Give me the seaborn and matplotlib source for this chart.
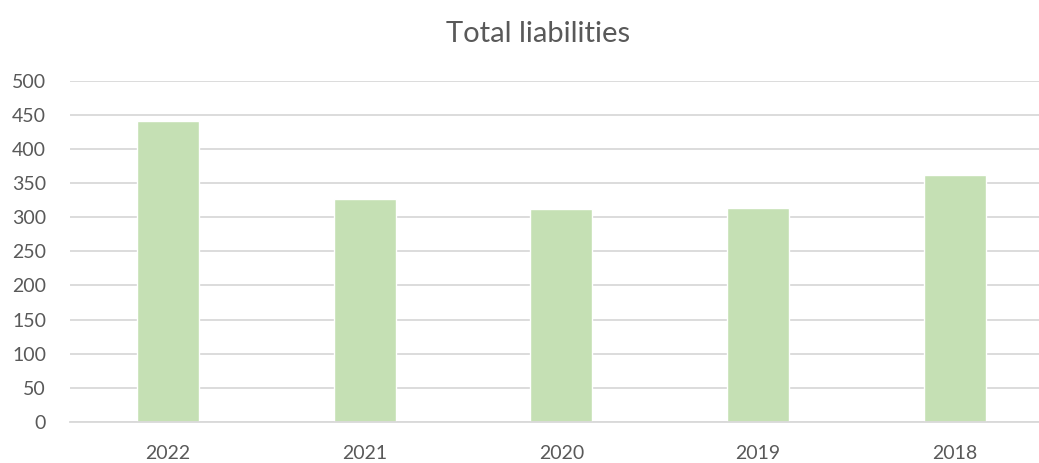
import matplotlib
matplotlib.use("Agg")
from matplotlib import pyplot as plt
import pandas as pd
import seaborn as sns

# data
years = ["2022", "2021", "2020", "2019", "2018"]
liabilities = [441, 327, 312, 314, 362]

sns.set_style("white")
plt.rcParams['font.family'] = ['Lato', 'DejaVu Sans']

df = pd.DataFrame({"year": years, "value": liabilities})

fig, ax = plt.subplots(figsize=(10.39, 4.63), dpi=100)
sns.barplot(data=df, x="year", y="value", color="#C5E0B4", width=0.315,
            saturation=1, ax=ax, zorder=2)

ax.set_ylim(0, 500)
ax.set_yticks(range(0, 501, 50))
ax.set_xlim(-0.5, 4.5)
ax.yaxis.grid(True, color="#D9D9D9", linewidth=1.3, zorder=0)
ax.set_axisbelow(True)
for s in ["top", "right", "left"]:
    ax.spines[s].set_visible(False)
ax.spines["bottom"].set_color("#D9D9D9")
ax.spines["bottom"].set_linewidth(1.3)
ax.tick_params(axis="both", colors="#595959", labelsize=14, length=0)
ax.tick_params(axis="y", pad=17)
ax.tick_params(axis="x", pad=17)
ax.set_xlabel("")
ax.set_ylabel("")
ax.set_title("Total liabilities", color="#595959", fontsize=21, pad=28, x=0.476)

plt.subplots_adjust(left=0.067, right=1.0135, bottom=0.089, top=0.825)
plt.savefig("out.png", dpi=100)
